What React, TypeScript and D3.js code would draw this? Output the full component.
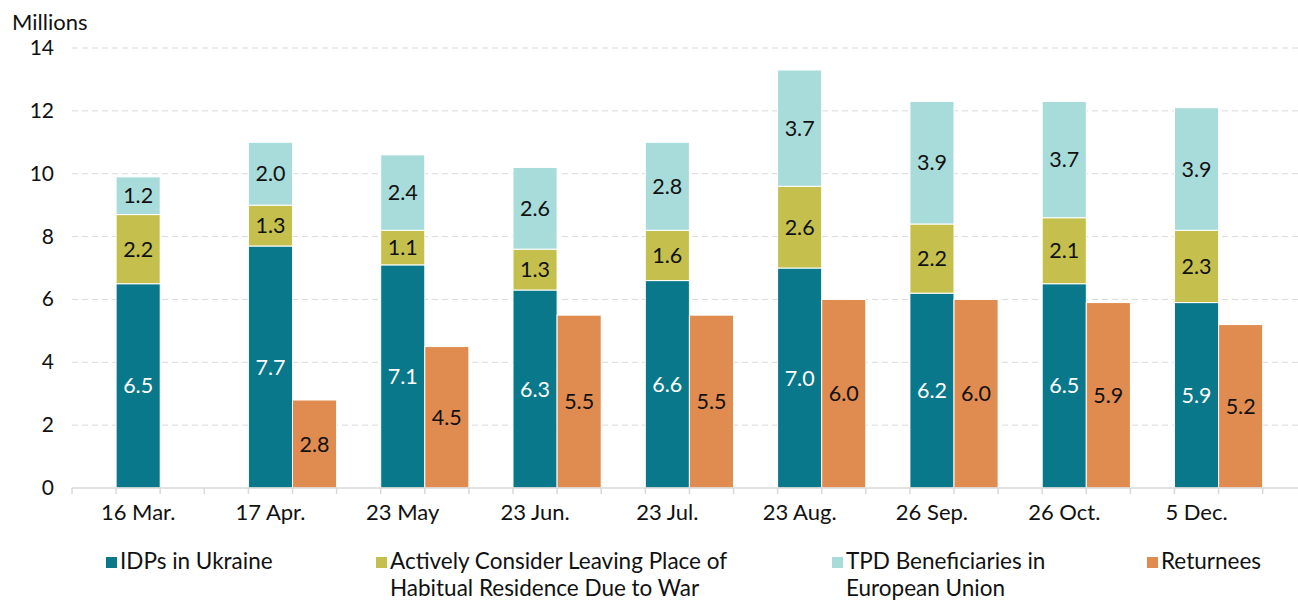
import { useEffect, useRef } from "react";
import * as d3 from "d3";

const categories = ["16 Mar.", "17 Apr.", "23 May", "23 Jun.", "23 Jul.", "23 Aug.", "26 Sep.", "26 Oct.", "5 Dec."];
const idps = [6.5, 7.7, 7.1, 6.3, 6.6, 7.0, 6.2, 6.5, 5.9];
const considering = [2.2, 1.3, 1.1, 1.3, 1.6, 2.6, 2.2, 2.1, 2.3];
const tpd = [1.2, 2.0, 2.4, 2.6, 2.8, 3.7, 3.9, 3.7, 3.9];
const returnees: (number | null)[] = [null, 2.8, 4.5, 5.5, 5.5, 6.0, 6.0, 5.9, 5.2];
const yTicks = [0, 2, 4, 6, 8, 10, 12, 14];

const COLORS = {
  idps: "#08788a",
  considering: "#c5c04e",
  tpd: "#a8dcdb",
  returnees: "#e08b50",
};

const legendItems = [
  { lines: ["IDPs in Ukraine"], color: COLORS.idps, x: 106 },
  { lines: ["Actively Consider Leaving Place of", "Habitual Residence Due to War"], color: COLORS.considering, x: 376 },
  { lines: ["TPD Beneficiaries in", "European Union"], color: COLORS.tpd, x: 832 },
  { lines: ["Returnees"], color: COLORS.returnees, x: 1147 },
];

const W = 1298;
const H = 602;
const FONT = "Lato, 'Open Sans', sans-serif";

export default function App() {
  const svgRef = useRef<SVGSVGElement>(null);

  useEffect(() => {
    if (!svgRef.current) return;
    const svg = d3.select(svgRef.current);
    svg.selectAll("*").remove();

    const left = 72;
    const slot = 44.1;
    const groupW = slot * 3;

    const x = d3
      .scaleBand<string>()
      .domain(categories)
      .range([left, left + groupW * categories.length])
      .padding(0);
    const sub = d3
      .scaleBand<string>()
      .domain(["gap", "stack", "ret"])
      .range([0, groupW]);
    const y = d3.scaleLinear().domain([0, 14]).range([488, 48]);

    // gridlines
    svg
      .append("g")
      .selectAll("line")
      .data(yTicks.filter((t) => t > 0))
      .join("line")
      .attr("x1", left)
      .attr("x2", W)
      .attr("y1", (d) => y(d))
      .attr("y2", (d) => y(d))
      .attr("stroke", "#d9d9d9")
      .attr("stroke-width", 1)
      .attr("stroke-dasharray", "6,4");

    // y labels
    svg
      .append("g")
      .selectAll("text")
      .data(yTicks)
      .join("text")
      .attr("x", 54)
      .attr("y", (d) => y(d) + 7)
      .attr("text-anchor", "end")
      .attr("font-family", FONT)
      .attr("font-size", 21)
      .attr("fill", "#111")
      .text((d) => d);

    svg
      .append("text")
      .attr("x", 12)
      .attr("y", 30)
      .attr("font-family", FONT)
      .attr("font-size", 22)
      .attr("fill", "#111")
      .text("Millions");

    // stacked bars
    const stackSeries = [
      { values: idps, color: COLORS.idps, textColor: "#fff" },
      { values: considering, color: COLORS.considering, textColor: "#111" },
      { values: tpd, color: COLORS.tpd, textColor: "#111" },
    ];
    const bars = svg.append("g");
    const labels = svg.append("g");

    categories.forEach((c, i) => {
      let base = 0;
      const bx = (x(c) || 0) + (sub("stack") || 0);
      stackSeries.forEach((s) => {
        const v = s.values[i];
        bars
          .append("rect")
          .attr("x", bx)
          .attr("width", sub.bandwidth())
          .attr("y", y(base + v))
          .attr("height", y(base) - y(base + v))
          .attr("fill", s.color)
          .attr("stroke", "#fff")
          .attr("stroke-width", 1);
        labels
          .append("text")
          .attr("x", bx + sub.bandwidth() / 2)
          .attr("y", y(base + v / 2) + 7.5)
          .attr("text-anchor", "middle")
          .attr("font-family", FONT)
          .attr("font-size", 21.5)
          .attr("fill", s.textColor)
          .text(d3.format(".1f")(v));
        base += v;
      });

      const r = returnees[i];
      if (r != null) {
        const rx = (x(c) || 0) + (sub("ret") || 0);
        bars
          .append("rect")
          .attr("x", rx)
          .attr("width", sub.bandwidth())
          .attr("y", y(r))
          .attr("height", y(0) - y(r))
          .attr("fill", COLORS.returnees)
          .attr("stroke", "#fff")
          .attr("stroke-width", 1);
        labels
          .append("text")
          .attr("x", rx + sub.bandwidth() / 2)
          .attr("y", y(r / 2) + 7.5)
          .attr("text-anchor", "middle")
          .attr("font-family", FONT)
          .attr("font-size", 21.5)
          .attr("fill", "#111")
          .text(d3.format(".1f")(r));
      }
    });

    // x axis
    const axis = svg.append("g");
    axis
      .append("line")
      .attr("x1", left)
      .attr("x2", W)
      .attr("y1", y(0))
      .attr("y2", y(0))
      .attr("stroke", "#d9d9d9")
      .attr("stroke-width", 1.5);
    axis
      .selectAll("line.tick")
      .data(d3.range(categories.length * 3 + 1))
      .join("line")
      .attr("class", "tick")
      .attr("x1", (d) => left + d * slot)
      .attr("x2", (d) => left + d * slot)
      .attr("y1", y(0))
      .attr("y2", y(0) + 6)
      .attr("stroke", "#d9d9d9")
      .attr("stroke-width", 1.5);
    axis
      .selectAll("text")
      .data(categories)
      .join("text")
      .attr("x", (d) => (x(d) || 0) + groupW / 2)
      .attr("y", 520)
      .attr("text-anchor", "middle")
      .attr("font-family", FONT)
      .attr("font-size", 22)
      .attr("fill", "#111")
      .text((d) => d);

    // legend
    const legend = svg.append("g");
    legendItems.forEach((item) => {
      legend
        .append("rect")
        .attr("x", item.x)
        .attr("y", 557)
        .attr("width", 11)
        .attr("height", 11)
        .attr("fill", item.color);
      item.lines.forEach((line, li) => {
        legend
          .append("text")
          .attr("x", item.x + 14)
          .attr("y", 569 + li * 27)
          .attr("font-family", FONT)
          .attr("font-size", 22.5)
          .attr("fill", "#111")
          .text(line);
      });
    });
  }, []);

  return (
    <svg
      ref={svgRef}
      width={W}
      height={H}
      style={{ position: "absolute", left: 0, top: 0, background: "#fff" }}
    />
  );
}
